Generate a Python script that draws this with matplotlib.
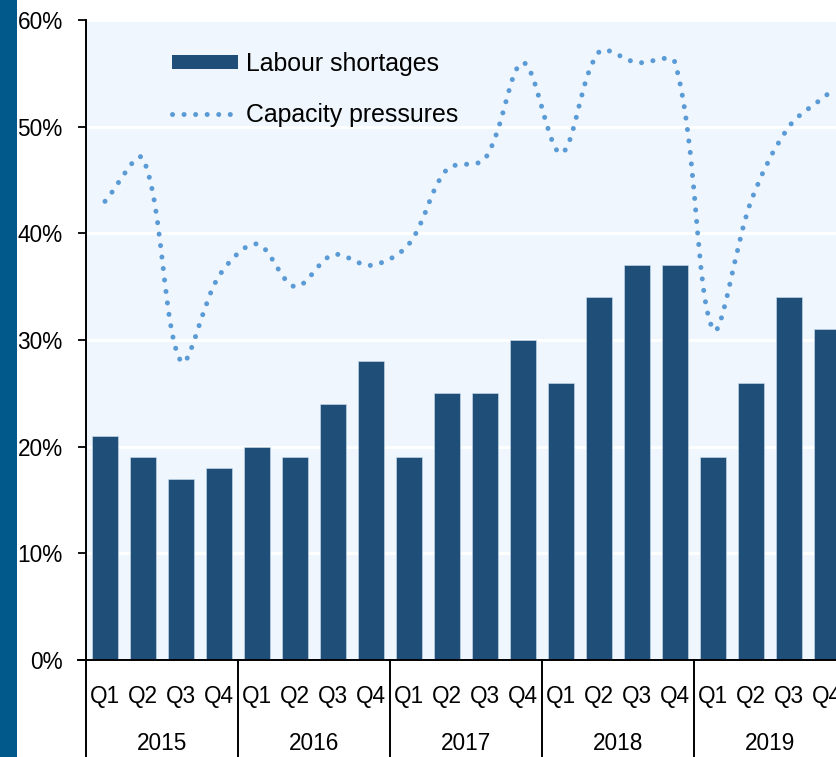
import numpy as np
import matplotlib
matplotlib.use("Agg")
import matplotlib.pyplot as plt
from matplotlib import font_manager
from matplotlib.path import Path
from matplotlib.patches import PathPatch, Rectangle, Patch
from matplotlib.lines import Line2D
import matplotlib.transforms as mtransforms

# ---------------- data ----------------
years = ["2015", "2016", "2017", "2018", "2019"]
quarters = ["Q1", "Q2", "Q3", "Q4"]
labour_shortages = [21, 19, 17, 18,
                    20, 19, 24, 28,
                    19, 25, 25, 30,
                    26, 34, 37, 37,
                    19, 26, 34, 31]
capacity_pressures = [43, 47, 28, 36,
                      39, 35, 38, 37,
                      39, 46, 47, 56,
                      47.5, 57, 56, 56,
                      31, 43, 50, 53]
y_ticks = [0, 10, 20, 30, 40, 50, 60]
series_names = ["Labour shortages", "Capacity pressures"]

# ---------------- fonts ----------------
names = {f.name for f in font_manager.fontManager.ttflist}
if "Liberation Sans Narrow" in names:
    tick_font = ["Liberation Sans Narrow", "DejaVu Sans"]
    tick_size = 17.8
else:
    tick_font = ["Liberation Sans", "DejaVu Sans"]
    tick_size = 16.3
legend_font = ["Liberation Sans", "DejaVu Sans"]

W, H = 836, 757
fig = plt.figure(figsize=(W / 100, H / 100), dpi=100)
fig.patch.set_facecolor("white")

# left decorative strip
fig.add_artist(Rectangle((0, 0), 17 / W, 1, transform=fig.transFigure,
                         facecolor="#00598a", edgecolor="none", zorder=0))

left = 86 / W
right = 846 / W
bottom = (H - 660) / H
top = (H - 20) / H
ax = fig.add_axes([left, bottom, right - left, top - bottom])
ax.set_facecolor("#eff6fd")

n = len(labour_shortages)
x = np.arange(n)
bar_color = "#1f4e79"
line_color = "#5b9bd5"

ax.set_axisbelow(True)
ax.yaxis.grid(True, color="white", linewidth=2)
ax.bar(x, labour_shortages, width=0.66, color=bar_color, edgecolor="#cfe0f0",
       linewidth=0.4, zorder=2)

# smooth dotted line (distance-weighted Bezier through the data points)
P = np.column_stack([x, capacity_pressures]).astype(float)
sx, sy = 38.0, 640.0 / 60.0          # approx. pixel scale for weighting
def dist(a, b):
    return np.hypot((a[0] - b[0]) * sx, (a[1] - b[1]) * sy)

verts = [tuple(P[0])]
codes = [Path.MOVETO]
for i in range(n - 1):
    p0 = P[i - 1] if i > 0 else P[i]
    p1 = P[i]
    p2 = P[i + 1]
    p3 = P[i + 2] if i + 2 < n else P[i + 1]
    d01, d12, d23 = dist(p0, p1), dist(p1, p2), dist(p2, p3)
    w1 = d12 / (d01 + d12) if d01 + d12 > 0 else 0.5
    w2 = d12 / (d12 + d23) if d12 + d23 > 0 else 0.5
    c1 = p1 + (p2 - p0) * w1 / 3.0
    c2 = p2 - (p3 - p1) * w2 / 3.0
    verts += [tuple(c1), tuple(c2), tuple(p2)]
    codes += [Path.CURVE4] * 3
path = Path(verts, codes)
ax.add_patch(PathPatch(path, fill=False, edgecolor=line_color, linewidth=3.6,
                       linestyle=(0, (0.01, 2.3)), capstyle="round",
                       transform=ax.transData, zorder=3))

ax.set_xlim(-0.5, n - 0.5)
ax.set_ylim(0, 60)
ax.set_yticks(y_ticks)
ax.set_yticklabels([f"{v}%" for v in y_ticks], fontfamily=tick_font,
                   fontsize=tick_size)
ax.tick_params(axis="y", length=5.8, width=1.3, pad=11, color="black")
ax.set_xticks([])

for s in ["top", "right"]:
    ax.spines[s].set_visible(False)
ax.spines["left"].set_linewidth(1.4)
ax.spines["bottom"].set_linewidth(1.4)
ax.spines["bottom"].set_bounds(-0.5 - 8 / 38, n - 0.5)

# category labels
trans = mtransforms.blended_transform_factory(ax.transData, ax.transAxes)
q_y = (660 - 697) / 640
yr_y = (660 - 744) / 640
for i in range(n):
    ax.text(x[i], q_y, quarters[i % 4], transform=trans, ha="center",
            va="center", fontfamily=tick_font, fontsize=tick_size, clip_on=False)
for j, yr in enumerate(years):
    ax.text(4 * j + 1.5, yr_y, yr, transform=trans, ha="center", va="center",
            fontfamily=tick_font, fontsize=tick_size, clip_on=False)
for j in range(len(years) + 1):
    ax.plot([4 * j - 0.5, 4 * j - 0.5], [0, -0.2], transform=trans,
            color="black", linewidth=1.4, clip_on=False)

# legend
handles = [Patch(facecolor=bar_color, edgecolor="none"),
           Line2D([0], [0], color=line_color, linewidth=3.6,
                  linestyle=(0, (0.01, 2.3)), dash_capstyle="round")]
leg = ax.legend(handles, series_names, loc="upper left",
                bbox_to_anchor=((172 - 86) / 760, (660 - 52) / 640),
                frameon=False, borderpad=0, borderaxespad=0,
                handlelength=2.65, handleheight=0.52, handletextpad=0.32,
                labelspacing=1.08,
                prop={"family": legend_font, "size": 17.9})

fig.savefig("out.png", dpi=100, facecolor="white")
